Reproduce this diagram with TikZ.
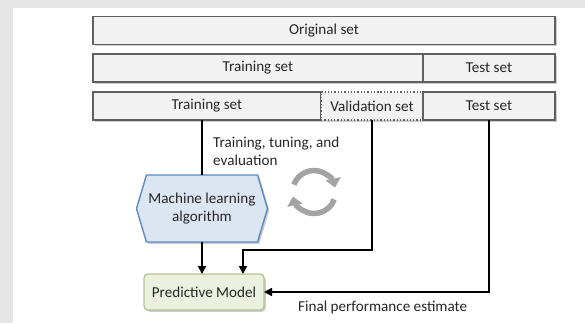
\documentclass[tikz,border=0pt]{standalone}
\usepackage{fontspec}
\setmainfont{Carlito}
\usetikzlibrary{arrows.meta,shapes.symbols,shadows}
\definecolor{bggray}{HTML}{E6E6E6}
\definecolor{setfill}{HTML}{F2F2F2}
\definecolor{boxline}{HTML}{606060}
\definecolor{txt}{HTML}{262626}
\definecolor{algfill}{HTML}{DCE6F2}
\definecolor{algline}{HTML}{5B8BC0}
\definecolor{modelfill}{HTML}{EBF1DE}
\definecolor{modelline}{HTML}{B3C290}
\definecolor{cyccol}{HTML}{A3A3A3}
\begin{document}
\begin{tikzpicture}[x=1bp,y=-1bp,font=\fontsize{15.2}{18.2}\selectfont,
  >={Triangle[width=8bp,length=8bp]},
  shade/.style={drop shadow={opacity=0.4,shadow xshift=1.8bp,shadow yshift=-1.8bp}},
  setbox/.style={draw=boxline,line width=1.3bp,fill=setfill,text=txt,inner sep=0pt,outer sep=0pt,minimum height=28bp,shade},
  algbox/.style={signal,signal to=west and east,signal pointer angle=147,draw=algline,line width=1.4bp,fill=algfill,text=txt,align=center,inner sep=0pt,outer sep=0pt,minimum width=131bp,minimum height=67bp,shade},
  modelbox/.style={draw=modelline,line width=1.3bp,fill=modelfill,text=txt,rounded corners=4bp,inner sep=0pt,outer sep=0pt,minimum width=120bp,minimum height=36bp,shade},
  link/.style={line width=1.7bp,black},
  lbl/.style={text=txt,inner sep=0pt},
  cyc/.style={line width=5.5bp,cyccol,-{Triangle[width=15bp,length=9bp]}}]
\useasboundingbox (0,0) rectangle (585,323);
\fill[bggray] (0,0) rectangle (585,323);\fill[white] (13,8) rectangle (585,323);
\node[setbox,minimum width=462bp] (orig) at (324,30.5) {Original set};
\node[setbox,minimum width=330bp] (train2) at (258,68) {Training set};
\node[setbox,minimum width=132bp] (test2) at (489,68) {Test set};
\node[setbox,minimum width=228bp] (train3) at (207,106) {Training set};
\node[setbox,dotted,minimum width=102bp] (valid) at (372,106) {Validation set};
\node[setbox,minimum width=132bp] (test3) at (489,106) {Test set};
\node[algbox] (alg) at (202,208.5) {Machine learning\\algorithm};
\node[modelbox] (model) at (204,292) {Predictive Model};
\node[lbl,align=left,anchor=west] (loop) at (213,151) {Training, tuning, and\\evaluation};
\node[lbl,anchor=west] (final) at (298,307) {Final performance estimate};
\coordinate (vbend) at (243,250);
\draw[link] (train3.south -| alg.north) -- (alg.north);
\draw[link,->] (alg.south) -- (alg.south |- model.north);
\draw[link,->] (valid.south) |- (vbend) -- (vbend |- model.north);
\draw[link,->] (test3.south) |- (model.east);
\draw[cyc] (314,192) ++(160:21.5bp) arc[start angle=160,end angle=12,radius=21.5bp];
\draw[cyc] (314,192) ++(-20:21.5bp) arc[start angle=-20,end angle=-168,radius=21.5bp];
\end{tikzpicture}
\end{document}
